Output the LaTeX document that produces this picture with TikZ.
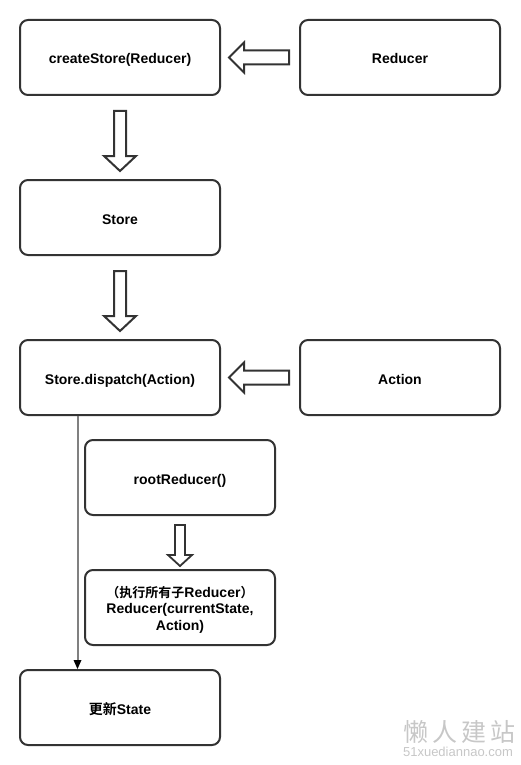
\documentclass[tikz,border=0pt]{standalone}
\usepackage{fontspec}
\setmainfont{Liberation Sans}
\newfontfamily\cjk{Noto Sans CJK SC}[BoldFont={Noto Sans CJK SC Bold}]
\usetikzlibrary{calc,arrows.meta}
\definecolor{ink}{HTML}{333333}
\tikzset{
  flowbox/.style={draw=ink,line width=2pt,rounded corners=8pt,fill=white,align=center,
    text=black,inner sep=2pt,font=\fontsize{14}{16.5}\selectfont\bfseries,anchor=center},
  oneline/.style={text height=13pt,text depth=0pt},
  block/.style={draw=ink,line width=2pt,fill=white,line join=miter},
  wide/.style={minimum width=200pt,minimum height=75pt},
  mid/.style={minimum width=190pt,minimum height=75pt},
}
\newcommand{\downblock}[1]{%
  \draw[block] ($(#1.south)+(-6pt,-15pt)$) -- ($(#1.south)+(6pt,-15pt)$)
    -- ($(#1.south)+(6pt,-60pt)$) -- ($(#1.south)+(16pt,-60pt)$)
    -- ($(#1.south)+(0pt,-75pt)$) -- ($(#1.south)+(-16pt,-60pt)$)
    -- ($(#1.south)+(-6pt,-60pt)$) -- cycle;}
\newcommand{\leftblock}[1]{%
  \draw[block] ($(#1.west)+(-10pt,7pt)$) -- ($(#1.west)+(-55pt,7pt)$)
    -- ($(#1.west)+(-55pt,15pt)$) -- ($(#1.west)+(-70pt,0pt)$)
    -- ($(#1.west)+(-55pt,-15pt)$) -- ($(#1.west)+(-55pt,-7pt)$)
    -- ($(#1.west)+(-10pt,-7pt)$) -- cycle;}
\begin{document}
\begin{tikzpicture}[x=1pt,y=-1pt]
\useasboundingbox (0,0) rectangle (520,765);
\node[flowbox,wide,oneline] (create) at (120,57.5) {createStore(Reducer)};
\node[flowbox,wide,oneline] (reducer) at (400,57.5) {Reducer};
\node[flowbox,wide,oneline] (store) at (120,217.5) {Store};
\node[flowbox,wide,oneline] (dispatch) at (120,377.5) {Store.dispatch(Action)};
\node[flowbox,wide,oneline] (action) at (400,377.5) {Action};
\node[flowbox,mid,oneline] (root) at (180,477.5) {rootReducer()};
\node[flowbox,mid,text height=45pt,text depth=0pt] (exec) at (180,607.5) {{\cjk\fontsize{13}{16.5}\selectfont（执行所有子}Reducer{\cjk\fontsize{13}{16.5}\selectfont ）}\\Reducer(currentState,\\Action)};
\node[flowbox,wide,oneline] (state) at (120,707.5) {{\cjk 更新}State};
\leftblock{reducer}
\leftblock{action}
\downblock{create}
\downblock{store}
\draw[block,line width=1.8pt] ($(root.south)+(-5pt,-9pt)$) -- ($(root.south)+(5pt,-9pt)$)
  -- ($(root.south)+(5pt,-39pt)$) -- ($(root.south)+(12pt,-39pt)$)
  -- ($(root.south)+(0pt,-50pt)$) -- ($(root.south)+(-12pt,-39pt)$)
  -- ($(root.south)+(-5pt,-39pt)$) -- cycle;
\coordinate (dtap) at ($(dispatch.south west)+(58.5pt,0pt)$);
\coordinate (stap) at ($(state.north west)+(58.5pt,0pt)$);
\draw[draw=black!50,line width=2pt] (dtap) -- ($(stap)+(0pt,8pt)$);
\draw[draw=none,fill=black] (stap) -- ($(stap)+(-4pt,9pt)$) -- ($(stap)+(4pt,9pt)$) -- cycle;
\node[text=black!22,font=\cjk\fontsize{25}{28}\selectfont] (wm) at (459,732) {懒\hspace{4pt}人\hspace{4pt}建\hspace{4pt}站};
\node[text=black!22,font=\fontsize{13}{14}\selectfont] (wmurl) at (458,752) {51xuediannao.com};
\end{tikzpicture}
\end{document}
